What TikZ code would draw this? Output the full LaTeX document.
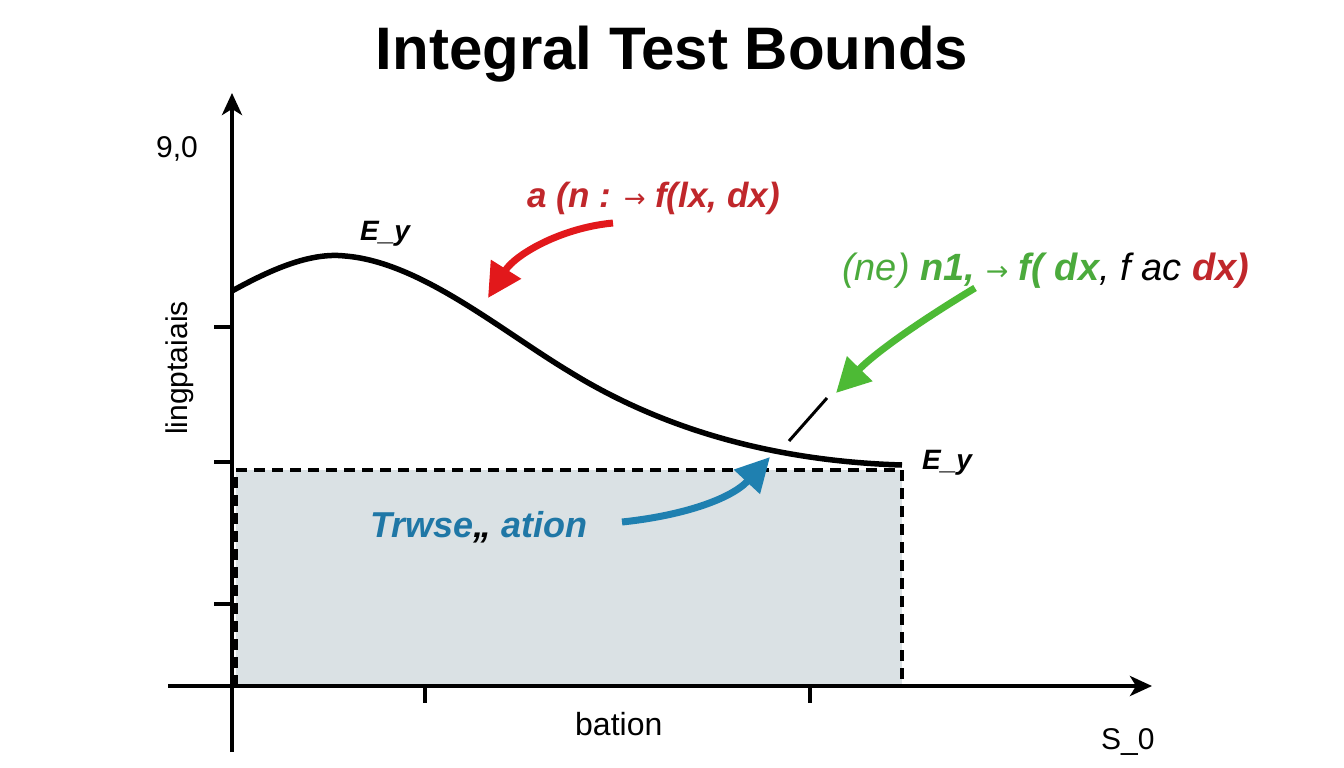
\documentclass[tikz,border=0pt]{standalone}
\usepackage{fontspec}
\setmainfont{Liberation Sans}
\newfontfamily\symf{DejaVu Sans}
\usetikzlibrary{arrows.meta}
\definecolor{redA}{HTML}{E2181B}
\definecolor{redT}{HTML}{C0272B}
\definecolor{greenA}{HTML}{4DBA35}
\definecolor{greenT}{HTML}{4BAA3C}
\definecolor{blueA}{HTML}{1F80B0}
\definecolor{blueT}{HTML}{1F77A6}
\definecolor{rectfill}{HTML}{DAE1E4}
\begin{document}
\begin{tikzpicture}[x=1pt,y=-1pt,
  axis/.style={line width=4pt,-{Stealth[length=22pt,width=20pt,inset=6pt]}},
  tick/.style={line width=4pt},
  curvestyle/.style={line width=5.5pt},
  callout/.style={line width=7pt,-{Triangle[length=34pt,width=34pt]}},
  lbl/.style={inner sep=0pt,anchor=base west}
]
\useasboundingbox[fill=white] (0,0) rectangle (1344,768);
% shaded rectangle
\fill[rectfill] (236,470) rectangle (902,686);
\draw[dash pattern=on 11pt off 7pt,line width=3.5pt] (236,686) -- (236,470) -- (902,470) -- (902,686);
% axes
\coordinate (yb) at (232,752);
\coordinate (yt) at (232,93);
\coordinate (xl) at (168,686);
\coordinate (xr) at (1152,686);
\draw[axis] (yb) -- (yt);
\draw[axis] (xl) -- (xr);
% ticks
\foreach \yy in {327,462,604} \draw[tick] (214,\yy) -- (232,\yy);
\foreach \xx in {425,810} \draw[tick] (\xx,686) -- (\xx,703);
% curve
\coordinate (c0) at (232,291);
\coordinate (cp) at (345,256);
\coordinate (cm) at (570,372);
\coordinate (c9) at (902,465);
\draw[curvestyle] (c0) .. controls (270,270) and (310,252) .. (cp)
  .. controls (420,262) and (500,330) .. (cm)
  .. controls (680,440) and (800,462) .. (c9);
% title
\node[inner sep=0pt,anchor=base,font=\fontsize{60}{60}\selectfont\bfseries] (title) at (672,70) {Integral Test Bounds};
% labels
\node[lbl,font=\fontsize{30}{30}\selectfont] (yval) at (156,157) {9,0};
\node[inner sep=0pt,rotate=90,font=\fontsize{30}{30}\selectfont] (ylab) at (180,368) {lingptaiais};
\node[lbl,font=\fontsize{32}{32}\selectfont] (xlab) at (575,735) {bation};
\node[lbl,font=\fontsize{30}{30}\selectfont] (xval) at (1101,749) {S\_0};
\node[lbl,font=\fontsize{28}{28}\selectfont\bfseries\itshape] (ey1) at (360,240) {E\_y};
\node[lbl,font=\fontsize{28}{28}\selectfont\bfseries\itshape] (ey2) at (922,469) {E\_y};
\node[lbl,text=redT,font=\fontsize{35}{35}\selectfont\bfseries\itshape] (redlab) at (527,207) {a (n : {\symf\mdseries\upshape\fontsize{26}{26}\selectfont →} f(lx, dx)};
\node[lbl,text=greenT,font=\fontsize{38}{38}\selectfont\itshape] (greenlab) at (842,280) {(ne) {\bfseries n1,} {\symf\upshape\fontsize{27}{27}\selectfont →} {\bfseries f( dx}\textcolor{black}{, f ac} \textcolor{redT}{\bfseries dx)}};
\node[lbl,font=\fontsize{36}{36}\selectfont\bfseries\itshape] (bluelab) at (370,537) {\textcolor{blueT}{Trwse},, \textcolor{blueT}{ation}};
% callout arrows
\coordinate (ra) at (613,223);
\coordinate (rb) at (488,298);
\draw[callout,redA] (ra) .. controls (560,228) and (515,255) .. (rb);
\coordinate (ga) at (975,288);
\coordinate (gb) at (836,393);
\draw[callout,greenA] (ga) .. controls (935,312) and (880,348) .. (gb);
\coordinate (ba) at (622,522);
\coordinate (bb) at (770,457);
\draw[callout,blueA] (ba) .. controls (680,516) and (730,500) .. (bb);
\coordinate (ka) at (827,398);
\coordinate (kb) at (789,441);
\draw[line width=3pt] (ka) -- (kb);
\end{tikzpicture}
\end{document}
